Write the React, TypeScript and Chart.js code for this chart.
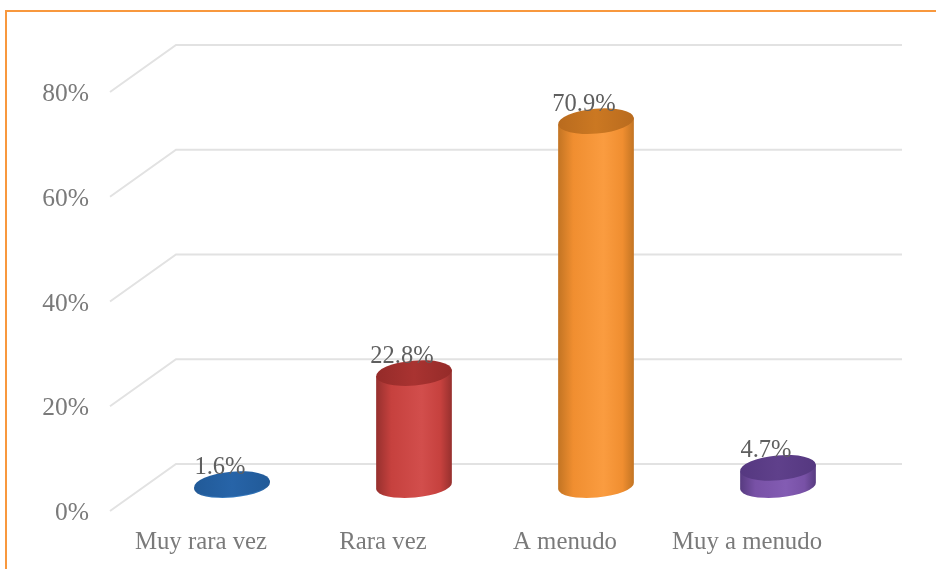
import React, { useEffect, useRef } from "react";
import { Chart, registerables } from "chart.js";

Chart.register(...registerables);

const categories = ["Muy rara vez", "Rara vez", "A menudo", "Muy a menudo"];
const values = [1.6, 22.8, 70.9, 4.7];
const valueLabels = ["1.6%", "22.8%", "70.9%", "4.7%"];
const yTicks = [0, 20, 40, 60, 80];
const mainColors = ["#2f70b4", "#c6413e", "#f08e30", "#7851a6"];
const lightColors = ["#377bc0", "#d24e4c", "#fa9c40", "#835cb3"];
const edgeColors = ["#24568f", "#96302e", "#c27423", "#573b80"];
const topColors = ["#2764a8", "#a93331", "#cb7822", "#5f408b"];
const topDarkColors = ["#215a98", "#952b29", "#b96b1e", "#553880"];

const FONT = '"Liberation Serif", serif';
const DEPTH_BACK = { dx: 66, dy: -47 };
const DEPTH_BAR = { dx: 31, topDy: -18.5, baseDy: -25 };
const RY_TOP = 12.5;
const RY_BASE = 11.5;
const ROT = (-5 * Math.PI) / 180;

const scene3d = {
  id: "scene3d",
  beforeDraw(chart: any) {
    const { ctx, chartArea, scales } = chart;
    ctx.save();
    ctx.strokeStyle = "#f8983e";
    ctx.lineWidth = 2;
    ctx.beginPath();
    ctx.moveTo(6, 569);
    ctx.lineTo(6, 11);
    ctx.lineTo(936, 11);
    ctx.stroke();
    ctx.strokeStyle = "#e2e2e2";
    ctx.lineWidth = 2;
    for (const t of yTicks) {
      const y = scales.y.getPixelForValue(t);
      ctx.beginPath();
      ctx.moveTo(chartArea.left, y);
      ctx.lineTo(chartArea.left + DEPTH_BACK.dx, y + DEPTH_BACK.dy);
      ctx.lineTo(chartArea.right + DEPTH_BACK.dx - 2, y + DEPTH_BACK.dy);
      ctx.stroke();
    }
    ctx.restore();
  },
  beforeDatasetDraw(chart: any) {
    const { ctx } = chart;
    const bars = chart.getDatasetMeta(0).data;
    bars.forEach((bar: any, i: number) => {
      const cx = bar.x + DEPTH_BAR.dx;
      const rx = bar.width / 2;
      const topY = bar.y + DEPTH_BAR.topDy;
      const baseY = bar.base + DEPTH_BAR.baseDy;
      const lx = Math.cos(ROT) * rx;
      const ly = Math.sin(ROT) * rx;
      ctx.save();
      const g = ctx.createLinearGradient(cx - rx, 0, cx + rx, 0);
      g.addColorStop(0, edgeColors[i]);
      g.addColorStop(0.2, mainColors[i]);
      g.addColorStop(0.6, lightColors[i]);
      g.addColorStop(0.85, mainColors[i]);
      g.addColorStop(1, edgeColors[i]);
      ctx.fillStyle = g;
      ctx.beginPath();
      ctx.moveTo(cx - lx, topY - ly);
      ctx.lineTo(cx - lx, baseY - ly);
      ctx.ellipse(cx, baseY, rx, RY_BASE, ROT, Math.PI, 0, true);
      ctx.lineTo(cx + lx, topY + ly);
      ctx.closePath();
      ctx.fill();
      const t = ctx.createLinearGradient(cx - rx, 0, cx + rx, 0);
      t.addColorStop(0, topDarkColors[i]);
      t.addColorStop(0.5, topColors[i]);
      t.addColorStop(1, topDarkColors[i]);
      ctx.fillStyle = t;
      ctx.beginPath();
      ctx.ellipse(cx, topY, rx, RY_TOP, ROT, 0, Math.PI * 2);
      ctx.fill();
      ctx.restore();
    });
    ctx.save();
    ctx.font = `24.5px ${FONT}`;
    ctx.fillStyle = "#5f5f5f";
    ctx.textAlign = "center";
    ctx.textBaseline = "middle";
    bars.forEach((bar: any, i: number) => {
      ctx.fillText(valueLabels[i], bar.x + DEPTH_BAR.dx - 12, bar.y + DEPTH_BAR.topDy - 17);
    });
    ctx.restore();
    return false;
  },
};

export default function App() {
  const ref = useRef<HTMLCanvasElement>(null);
  useEffect(() => {
    document.body.style.margin = "0";
    const chart = new Chart(ref.current as HTMLCanvasElement, {
      type: "bar",
      data: {
        labels: categories,
        datasets: [
          {
            data: values,
            backgroundColor: mainColors,
            categoryPercentage: 1,
            barPercentage: 76 / 182,
          },
        ],
      },
      plugins: [scene3d],
      options: {
        responsive: false,
        animation: false,
        layout: { padding: { top: 92, right: 98, left: 0, bottom: 0 } },
        plugins: { legend: { display: false }, tooltip: { enabled: false }, title: { display: false } },
        scales: {
          x: {
            grid: { display: false, drawTicks: false },
            border: { display: false },
            ticks: { color: "#7a7a7a", font: { family: FONT, size: 24.8 }, padding: 17, maxRotation: 0, autoSkip: false },
            afterFit(s: any) {
              s.height = 58;
              s.paddingLeft = 0;
              s.paddingRight = 0;
            },
          },
          y: {
            min: 0,
            max: 80,
            grid: { display: false, drawTicks: false },
            border: { display: false },
            afterBuildTicks(s: any) {
              s.ticks = yTicks.map((value) => ({ value }));
            },
            ticks: {
              color: "#7a7a7a",
              font: { family: FONT, size: 25.5 },
              padding: 21,
              labelOffset: 2.5,
              callback: (v: any) => `${v}%`,
            },
            afterFit(s: any) {
              s.width = 110;
              s.paddingTop = 0;
              s.paddingBottom = 0;
            },
          },
        },
      },
    } as any);
    return () => chart.destroy();
  }, []);
  return <canvas ref={ref} width={936} height={569} style={{ display: "block", filter: "blur(0.5px)" }} />;
}
